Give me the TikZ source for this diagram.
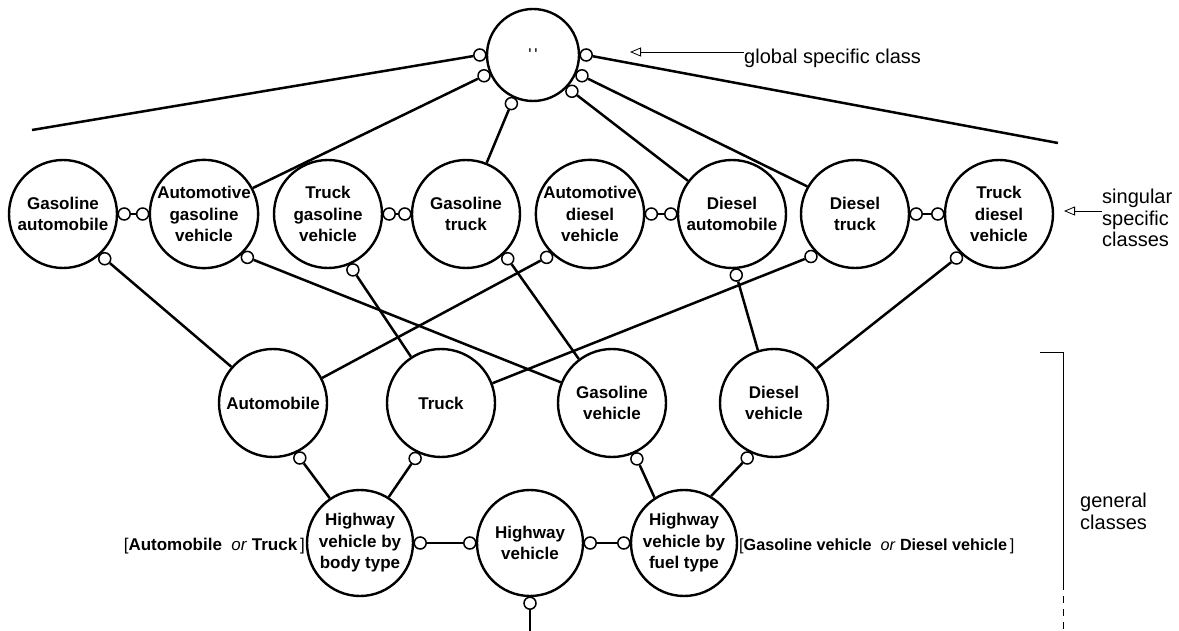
\documentclass[tikz,border=0pt]{standalone}
\usepackage{fontspec}
\setmainfont{Liberation Sans}
\usetikzlibrary{arrows.meta,calc}

% small open circle sitting just outside a class circle at a given angle
\newcommand\lollipop[3]{\node[lol] (#1) at ($(#2.#3)!-6pt!(#2.center)$) {};}

\begin{document}
\begin{tikzpicture}[x=1pt,y=-1pt,
  cls/.style={circle,draw,line width=2.4pt,inner sep=0pt,minimum size=108pt,
    align=center,font=\bfseries\fontsize{17}{21.5}\selectfont},
  lol/.style={circle,draw,fill=white,line width=1.5pt,inner sep=0pt,minimum size=12pt},
  link/.style={line width=2.5pt},
  note/.style={font=\fontsize{20}{21.5}\selectfont,align=left,inner sep=0pt},
  pointer/.style={line width=0.8pt,-{Triangle[open,length=11pt,width=9pt]}},
  alt/.style={font=\fontsize{17}{20}\selectfont,inner sep=0pt},
  bracket/.style={line width=0.9pt}
]
\useasboundingbox (0,0) rectangle (1179,631);

% global specific class
\node[cls,minimum size=92pt,font=\fontsize{17}{21}\selectfont] (top) at (533,55)
  {\textquotesingle\,\textquotesingle};

% singular specific classes
\node[cls] (ga)  at (63,214)  {Gasoline\\automobile};
\node[cls] (agv) at (204,214) {Automotive\\gasoline\\vehicle};
\node[cls] (tgv) at (328,214) {Truck\\gasoline\\vehicle};
\node[cls] (gt)  at (466,214) {Gasoline\\truck};
\node[cls] (adv) at (590,214) {Automotive\\diesel\\vehicle};
\node[cls] (da)  at (732,214) {Diesel\\automobile};
\node[cls] (dt)  at (855,214) {Diesel\\truck};
\node[cls] (tdv) at (999,214) {Truck\\diesel\\vehicle};

% general classes
\node[cls] (auto)  at (273,403) {Automobile};
\node[cls] (truck) at (441,403) {Truck};
\node[cls] (gasv)  at (612,403) {Gasoline\\vehicle};
\node[cls] (diev)  at (774,403) {Diesel\\vehicle};

\node[cls,minimum size=106pt] (body) at (360,543) {Highway\\vehicle by\\body type};
\node[cls,minimum size=106pt] (hv)   at (530,543) {Highway\\vehicle};
\node[cls,minimum size=106pt] (fuel) at (684,543) {Highway\\vehicle by\\fuel type};

% lollipop ends
\lollipop{tL}{top}{180}
\lollipop{tL2}{top}{-157}
\lollipop{tB}{top}{-114}
\lollipop{tR}{top}{0}
\lollipop{tR2}{top}{-23}
\lollipop{tR3}{top}{-43}

\lollipop{gaR}{ga}{0}     \lollipop{gaD}{ga}{-47}
\lollipop{agvL}{agv}{180} \lollipop{agvD}{agv}{-45}
\lollipop{tgvR}{tgv}{0}   \lollipop{tgvD}{tgv}{-66}
\lollipop{gtL}{gt}{180}   \lollipop{gtD}{gt}{-47}
\lollipop{advR}{adv}{0}   \lollipop{advD}{adv}{-135}
\lollipop{daL}{da}{180}   \lollipop{daD}{da}{-86}
\lollipop{dtR}{dt}{0}     \lollipop{dtD}{dt}{-136}
\lollipop{tdvL}{tdv}{180} \lollipop{tdvD}{tdv}{-134}

\lollipop{autoD}{auto}{-64}
\lollipop{truckD}{truck}{-115}
\lollipop{gasvD}{gasv}{-66}
\lollipop{dievD}{diev}{-116}

\lollipop{bodyR}{body}{0}
\lollipop{hvL}{hv}{180}
\lollipop{hvR}{hv}{0}
\lollipop{hvD}{hv}{-90}
\lollipop{fuelL}{fuel}{180}

% free ends
\coordinate (farL) at (32,130);
\coordinate (farR) at (1058,143);
\coordinate (hvEnd) at (530,631);

% connectors
\draw[link] (tL) -- (farL);
\draw[link] (tR) -- (farR);
\draw[link] (tL2) -- (agv.28);
\draw[link] (tB) -- (gt.68);
\draw[link] (tR3) -- (da.143);
\draw[link] (tR2) -- (dt.150);

\draw[link] (gaR) -- (agvL);
\draw[link] (tgvR) -- (gtL);
\draw[link] (advR) -- (daL);
\draw[link] (dtR) -- (tdvL);

\draw[link] (gaD) -- (auto.139);
\draw[link] (agvD) -- (gasv.158);
\draw[link] (tgvD) -- (truck.123);
\draw[link] (gtD) -- (gasv.127);
\draw[link] (advD) -- (auto.27);
\draw[link] (daD) -- (diev.107);
\draw[link] (dtD) -- (truck.21);
\draw[link] (tdvD) -- (diev.39);

\draw[link] (autoD) -- (body.124);
\draw[link] (truckD) -- (body.58);
\draw[link] (gasvD) -- (fuel.123);
\draw[link] (dievD) -- (fuel.60);

\draw[link] (bodyR) -- (hvL);
\draw[link] (hvR) -- (fuelL);
\draw[link] (hvD) -- (hvEnd);

% alternatives
\node[alt,anchor=base east] (bodyalt) at (305,550)
  {[\textbf{Automobile}\ \ \textit{or} \textbf{Truck}\,]};
\node[alt,anchor=base west,font=\fontsize{16.2}{20}\selectfont] (fuelalt) at (739,550)
  {[\textbf{Gasoline vehicle}\ \ \textit{or} \textbf{Diesel vehicle}\,]};

% annotations
\node[note,anchor=base west] (glob) at (744,64) {global specific class};
\coordinate (globTip) at (630,52);
\draw[pointer] (glob.west |- globTip) -- (globTip);

\node[note,anchor=base west] (sing) at (1102,247) {singular\\specific\\classes};
\coordinate (singTip) at (1064,211);
\draw[pointer] (sing.west |- singTip) -- (singTip);

\node[note,anchor=base west] (gen) at (1080,529) {general\\classes};
\coordinate (brA) at (1040,352);
\coordinate (brB) at (1063,352);
\coordinate (brC) at (1063,583);
\coordinate (brD) at (1063,631);
\draw[bracket] (brA) -- (brB) -- (brC);
\draw[bracket,dash pattern=on 7pt off 6pt] (brC) -- (brD);
\end{tikzpicture}
\end{document}
